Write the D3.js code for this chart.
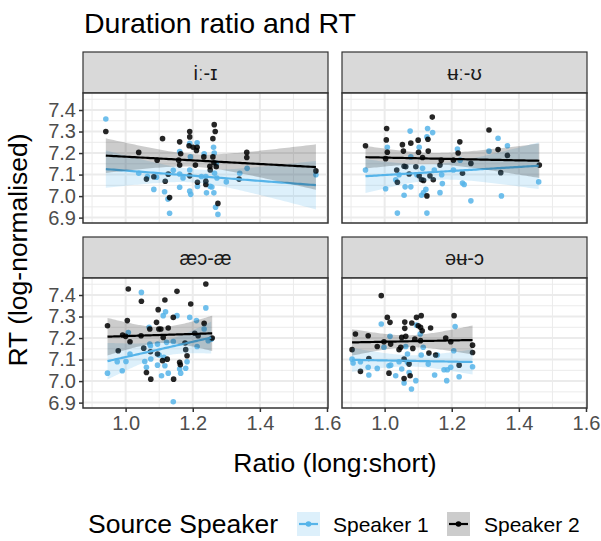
<!DOCTYPE html>
<html>
<head>
<meta charset="utf-8">
<script src="https://cdn.jsdelivr.net/npm/d3@7"></script>
<style>
  body { margin: 0; background: #fff; }
  text { font-family: "Liberation Sans", Arial, sans-serif; }
</style>
</head>
<body>
<div class="chart"></div>
<script>
// facet labels (panel order: top-left, top-right, bottom-left, bottom-right)
const facets = ['i\u02D0-\u026A', '\u0289\u02D0-\u028A', '\u00E6\u0254-\u00E6', '\u0259\u0289-\u0254'];
const speakers = ['Speaker 1', 'Speaker 2'];
const xTicks = [1.0, 1.2, 1.4, 1.6];
const yTicks = [6.9, 7.0, 7.1, 7.2, 7.3, 7.4];

// i:-I
const iI_s1_ratio = [0.941,1.039,1.065,1.092,1.084,1.116,1.126,1.131,1.161,1.161,1.161,1.191,1.193,1.191,1.191,1.194,1.213,1.214,1.234,1.241,1.239,1.252,1.257,1.262,1.264,1.263,1.265,1.270,1.272,1.268,1.275,1.300,1.340,1.362,1.567,1.226,1.142,1.171];
const iI_s1_rt = [7.358,7.106,7.091,7.088,7.031,7.020,6.986,6.92,7.207,7.103,7.041,7.245,7.182,7.121,7.023,7.008,7.248,7.045,7.197,7.015,7.091,7.045,7.042,7.227,7.200,7.015,7.106,7.152,7.084,6.948,6.915,7.066,7.106,7.129,7.099,7.091,7.12,7.084];
const iI_s2_ratio = [0.941,1.039,1.094,1.062,1.084,1.110,1.118,1.127,1.131,1.161,1.164,1.161,1.158,1.191,1.191,1.189,1.201,1.211,1.213,1.191,1.208,1.214,1.233,1.239,1.239,1.251,1.252,1.260,1.264,1.267,1.260,1.263,1.270,1.275,1.338,1.361,1.361,1.567];
const iI_s2_rt = [7.30,7.203,7.167,7.079,7.09,7.267,7.069,7.102,6.993,7.252,7.197,7.144,7.167,7.30,7.275,7.234,7.227,7.212,7.227,7.094,7.144,7.064,7.182,7.069,7.054,7.139,7.121,7.267,7.332,7.30,7.182,7.155,7.136,6.966,7.079,7.203,7.179,7.117];

// u:-U
const uU_s1_ratio = [0.943,1.003,1.008,1.033,1.038,1.058,1.061,1.078,1.076,1.078,1.103,1.110,1.113,1.116,1.123,1.126,1.128,1.126,1.143,1.148,1.165,1.172,1.170,1.205,1.217,1.225,1.232,1.237,1.257,1.311,1.338,1.348,1.366,1.459,1.043,1.096];
const uU_s1_rt = [7.121,7.034,7.227,7.076,6.921,7.004,7.043,7.043,7.302,7.182,7.227,7.004,7.129,7.016,7.031,6.921,7.314,7.275,7.295,7.121,7.016,7.058,7.099,7.121,7.219,7.167,7.061,7.054,6.978,7.209,7.269,7.001,7.234,7.066,7.099,7.099];
const uU_s2_ratio = [0.943,1.006,1.005,1.008,1.003,1.036,1.038,1.053,1.056,1.058,1.063,1.073,1.078,1.100,1.101,1.103,1.113,1.110,1.116,1.126,1.129,1.130,1.142,1.135,1.145,1.165,1.169,1.205,1.219,1.224,1.232,1.257,1.311,1.338,1.346,1.366,1.461,1.093];
const uU_s2_rt = [7.234,7.314,7.261,7.204,7.174,7.121,7.064,7.239,7.209,7.139,7.136,7.103,7.246,7.26,7.204,7.094,7.179,7.076,7.073,7.001,7.264,7.209,7.367,7.094,7.076,7.144,7.167,7.167,7.20,7.252,7.106,7.152,7.307,7.216,7.109,7.189,7.144,7.136];

// ae-ae
const ae_s1_ratio = [0.946,0.975,0.990,1.001,1.008,1.013,1.047,1.057,1.062,1.070,1.072,1.075,1.095,1.095,1.100,1.107,1.112,1.114,1.117,1.119,1.127,1.142,1.142,1.153,1.161,1.164,1.179,1.183,1.191,1.211,1.213,1.234,1.239,1.246,1.255,1.122,1.074];
const ae_s1_rt = [7.037,7.090,7.048,7.091,7.226,7.126,7.412,7.091,7.064,7.250,7.172,7.103,7.172,7.074,7.121,7.025,7.304,7.110,7.071,7.322,7.037,7.184,6.904,7.304,7.056,7.037,7.060,7.090,7.296,7.281,7.161,7.242,7.340,7.188,7.195,7.18,7.164];
const ae_s2_ratio = [0.946,1.008,1.005,0.991,1.0,1.013,0.978,1.046,1.047,1.054,1.062,1.075,1.072,1.074,1.092,1.097,1.095,1.099,1.105,1.110,1.117,1.112,1.124,1.127,1.142,1.143,1.153,1.161,1.163,1.179,1.183,1.194,1.206,1.216,1.234,1.239,1.258,1.177];
const ae_s2_rt = [7.257,7.428,7.281,7.214,7.208,7.183,7.141,7.211,7.371,7.153,7.040,7.009,7.242,7.136,7.273,7.332,7.126,7.242,7.242,7.095,7.377,7.203,7.102,7.247,7.296,7.009,7.417,7.087,7.076,7.146,7.118,7.358,7.222,7.211,7.268,7.451,7.2,7.177];

// @u-O
const ou_s1_ratio = [0.903,0.906,0.928,0.951,0.953,0.978,0.990,0.998,1.016,1.018,1.033,1.043,1.051,1.058,1.063,1.068,1.068,1.073,1.080,1.093,1.095,1.106,1.109,1.115,1.130,1.149,1.157,1.177,1.185,1.187,1.197,1.206,1.210,1.222,1.262,1.013];
const ou_s1_rt = [7.102,7.084,7.090,7.064,7.028,7.059,7.265,7.157,7.208,7.074,7.025,7.090,7.056,6.991,7.161,7.126,7.087,7.040,6.963,7.002,7.260,7.219,7.121,7.157,7.079,7.028,7.121,7.053,7.002,7.053,7.064,7.141,7.254,7.020,7.067,7.071];
const ou_s2_ratio = [0.903,0.913,0.928,0.951,0.953,0.978,0.990,0.998,1.008,1.016,1.013,1.018,1.043,1.051,1.058,1.060,1.060,1.063,1.058,1.076,1.073,1.081,1.084,1.090,1.095,1.100,1.109,1.107,1.112,1.107,1.132,1.137,1.152,1.182,1.197,1.207,1.222,1.262,1.262,1.048];
const ou_s2_rt = [7.146,7.219,7.045,7.211,7.105,7.161,7.397,7.183,7.296,7.273,7.037,7.172,7.146,7.203,7.102,7.274,7.245,7.208,7.012,7.025,7.079,7.270,7.152,7.195,7.296,7.257,7.304,7.250,7.234,7.188,7.130,7.247,7.121,7.200,7.183,7.304,7.074,7.167,7.133,7.157];

const panelData = [
  [[iI_s1_ratio, iI_s1_rt], [iI_s2_ratio, iI_s2_rt]],
  [[uU_s1_ratio, uU_s1_rt], [uU_s2_ratio, uU_s2_rt]],
  [[ae_s1_ratio, ae_s1_rt], [ae_s2_ratio, ae_s2_rt]],
  [[ou_s1_ratio, ou_s1_rt], [ou_s2_ratio, ou_s2_rt]]
];

const colors = ['#56B4E9', '#000000'];

const width = 601, height = 541;
const svg = d3.select('.chart').append('svg')
  .attr('width', width).attr('height', height);

// layout of the 2x2 grid
const panelW = 245, panelH = 130, stripH = 41;
const colX = [83, 342];
const rowY = [52, 237]; // strip tops

const x = d3.scaleLinear().domain([0.873, 1.603]).range([0, panelW]);
const y = d3.scaleLinear().domain([6.875, 7.479]).range([panelH, 0]);

// linear fit with 95% confidence band (like geom_smooth(method = 'lm'))
function lmBand(xs, ys){
  const n = xs.length;
  const mx = d3.mean(xs), my = d3.mean(ys);
  let sxx = 0, sxy = 0;
  for (let i = 0; i < n; i++){ sxx += (xs[i]-mx)**2; sxy += (xs[i]-mx)*(ys[i]-my); }
  const b = sxy/sxx, a = my - b*mx;
  let sse = 0;
  for (let i = 0; i < n; i++){ sse += (ys[i] - a - b*xs[i])**2; }
  const s = Math.sqrt(sse/(n-2));
  const t = 2.03;
  const lo = d3.min(xs), hi = d3.max(xs);
  return d3.range(0, 81).map(k => {
    const xv = lo + (hi-lo)*k/80;
    const fit = a + b*xv;
    const se = s*Math.sqrt(1/n + (xv-mx)**2/sxx);
    return {x: xv, fit: fit, lo: fit - t*se, hi: fit + t*se};
  });
}

facets.forEach((label, p) => {
  const col = p % 2, row = Math.floor(p/2);
  const g = svg.append('g').attr('transform', `translate(${colX[col]},${rowY[row]})`);

  // strip
  g.append('rect').attr('x', 0).attr('y', 0).attr('width', panelW).attr('height', stripH)
    .attr('fill', '#d9d9d9').attr('stroke', '#333').attr('stroke-width', 1.2);
  g.append('text').text(label).attr('x', panelW/2).attr('y', stripH/2 + 7)
    .attr('text-anchor', 'middle').attr('font-size', 20).attr('fill', '#1a1a1a');

  const pg = g.append('g').attr('transform', `translate(0,${stripH})`);
  pg.append('rect').attr('width', panelW).attr('height', panelH).attr('fill', '#fff');

  // grid, minor then major
  const xMinor = [0.9, 1.1, 1.3, 1.5];
  const yMinor = [6.95, 7.05, 7.15, 7.25, 7.35, 7.45];
  pg.selectAll('.xmin').data(xMinor).enter().append('line')
    .attr('x1', d => x(d)).attr('x2', d => x(d)).attr('y1', 0).attr('y2', panelH)
    .attr('stroke', '#ebebeb').attr('stroke-width', 1);
  pg.selectAll('.ymin').data(yMinor).enter().append('line')
    .attr('y1', d => y(d)).attr('y2', d => y(d)).attr('x1', 0).attr('x2', panelW)
    .attr('stroke', '#ebebeb').attr('stroke-width', 1);
  pg.selectAll('.xmaj').data(xTicks).enter().append('line')
    .attr('x1', d => x(d)).attr('x2', d => x(d)).attr('y1', 0).attr('y2', panelH)
    .attr('stroke', '#ebebeb').attr('stroke-width', 2);
  pg.selectAll('.ymaj').data(yTicks).enter().append('line')
    .attr('y1', d => y(d)).attr('y2', d => y(d)).attr('x1', 0).attr('x2', panelW)
    .attr('stroke', '#ebebeb').attr('stroke-width', 2);

  // points
  panelData[p].forEach((s, si) => {
    const pts = s[0].map((v, i) => [v, s[1][i]]);
    pg.selectAll('.pt' + si).data(pts).enter().append('circle')
      .attr('cx', d => x(d[0])).attr('cy', d => y(d[1])).attr('r', 2.8)
      .attr('fill', colors[si]).attr('fill-opacity', 0.85);
  });

  // smooths: ribbon then line, per speaker
  panelData[p].forEach((s, si) => {
    const band = lmBand(s[0], s[1]);
    pg.append('path').datum(band)
      .attr('d', d3.area().x(d => x(d.x)).y0(d => y(d.lo)).y1(d => y(d.hi)))
      .attr('fill', colors[si]).attr('fill-opacity', 0.2);
    pg.append('path').datum(band)
      .attr('d', d3.line().x(d => x(d.x)).y(d => y(d.fit)))
      .attr('fill', 'none').attr('stroke', colors[si]).attr('stroke-width', 2.2);
  });

  pg.append('rect').attr('width', panelW).attr('height', panelH)
    .attr('fill', 'none').attr('stroke', '#333').attr('stroke-width', 1.5);

  // y axis on left column
  if (col === 0){
    const ya = pg.append('g').call(d3.axisLeft(y).tickValues(yTicks).tickFormat(d3.format('.1f')).tickSize(4).tickPadding(3));
    ya.select('.domain').remove();
    ya.selectAll('line').attr('stroke', '#333').attr('stroke-width', 1.5);
    ya.selectAll('text').attr('font-size', 20).attr('fill', '#4d4d4d').attr('font-family', 'Liberation Sans, Arial, sans-serif');
  }
  // x axis on bottom row
  if (row === 1){
    const xa = pg.append('g').attr('transform', `translate(0,${panelH})`)
      .call(d3.axisBottom(x).tickValues(xTicks).tickFormat(d3.format('.1f')).tickSize(4).tickPadding(4));
    xa.select('.domain').remove();
    xa.selectAll('line').attr('stroke', '#333').attr('stroke-width', 1.5);
    xa.selectAll('text').attr('font-size', 20).attr('fill', '#4d4d4d').attr('font-family', 'Liberation Sans, Arial, sans-serif');
  }
});

// title and axis titles
svg.append('text').text('Duration ratio and RT').attr('x', 84).attr('y', 33)
  .attr('font-size', 28.5).attr('fill', '#000');
svg.append('text').text('Ratio (long:short)').attr('x', 335).attr('y', 472)
  .attr('text-anchor', 'middle').attr('font-size', 26.5).attr('fill', '#000');
svg.append('text').text('RT (log-normalised)')
  .attr('transform', 'translate(27,250) rotate(-90)')
  .attr('text-anchor', 'middle').attr('font-size', 26.5).attr('fill', '#000');

// legend
const legend = svg.append('g');
legend.append('text').text('Source Speaker').attr('x', 88).attr('y', 533)
  .attr('font-size', 26.5).attr('fill', '#000');
const keyX = [297, 447];
const labX = [333, 484];
speakers.forEach((sp, i) => {
  legend.append('rect').attr('x', keyX[i]).attr('y', 512).attr('width', 23).attr('height', 24)
    .attr('fill', colors[i]).attr('fill-opacity', 0.2);
  legend.append('line').attr('x1', keyX[i]+2).attr('x2', keyX[i]+21).attr('y1', 524).attr('y2', 524)
    .attr('stroke', colors[i]).attr('stroke-width', 2.2);
  legend.append('circle').attr('cx', keyX[i]+11.5).attr('cy', 524).attr('r', 2.8)
    .attr('fill', colors[i]);
  legend.append('text').text(sp).attr('x', labX[i]).attr('y', 532)
    .attr('font-size', 21).attr('fill', '#000');
});
</script>
</body>
</html>
